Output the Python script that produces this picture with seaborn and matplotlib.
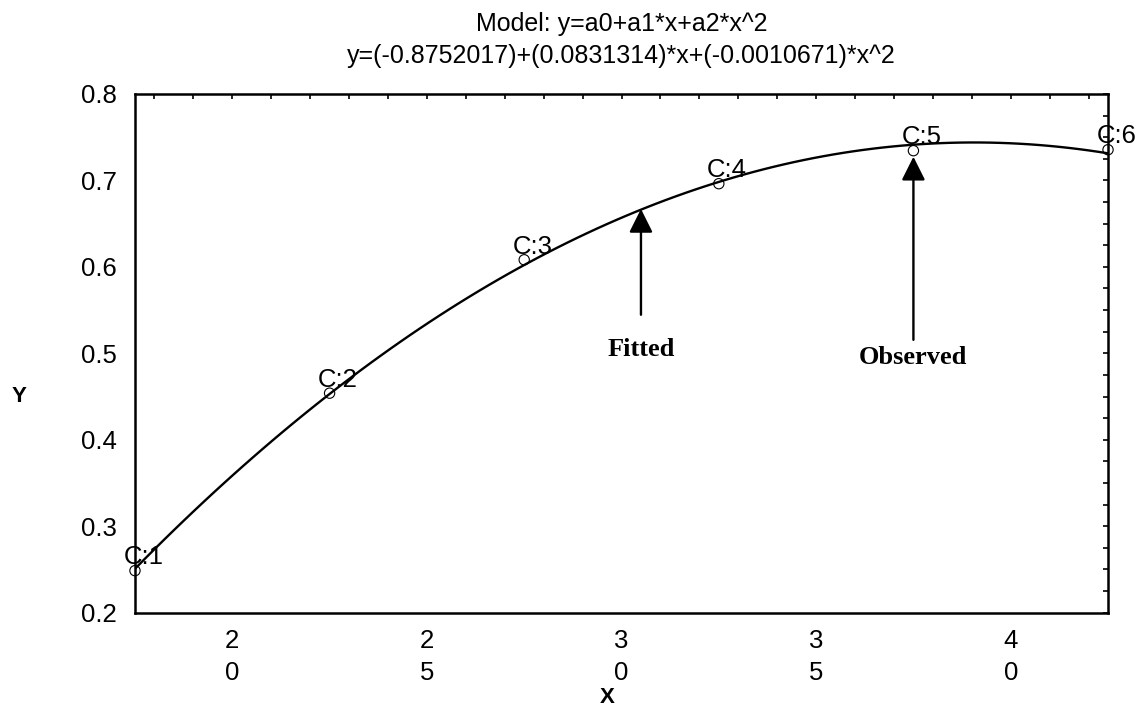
import numpy as np
import matplotlib
matplotlib.use("Agg")
import matplotlib.pyplot as plt
from matplotlib.ticker import MultipleLocator
import seaborn as sns

# observed points
x_obs = [17.5, 22.5, 27.5, 32.5, 37.5, 42.5]
y_obs = [0.2486, 0.4539, 0.6082, 0.6962, 0.7344, 0.7355]
point_labels = ["C:1", "C:2", "C:3", "C:4", "C:5", "C:6"]

x_ticks = [20, 25, 30, 35, 40]
x_ticklabels = ["2\n0", "2\n5", "3\n0", "3\n5", "4\n0"]
y_ticks = [0.2, 0.3, 0.4, 0.5, 0.6, 0.7, 0.8]

title = "Model: y=a0+a1*x+a2*x^2\ny=(-0.8752017)+(0.0831314)*x+(-0.0010671)*x^2"

# arrow annotations: (text, arrow tip, arrow tail, text centre)
notes = [
    ("Fitted", (30.5, 0.667), (30.5, 0.5446), (30.5, 0.5045)),
    ("Observed", (37.5, 0.7274), (37.5, 0.5156), (37.5, 0.4954)),
]

sns.set_style("white")
plt.rcParams["font.family"] = ["Liberation Sans", "DejaVu Sans"]
plt.rcParams["text.color"] = "black"
plt.rcParams["axes.labelcolor"] = "black"
plt.rcParams["xtick.color"] = "black"
plt.rcParams["ytick.color"] = "black"

fig = plt.figure(figsize=(11.41, 7.06), dpi=100)
ax = fig.add_axes([0.1183, 0.1322, 0.8528, 0.7347])

# quadratic fit drawn by seaborn
sns.regplot(x=x_obs, y=y_obs, order=2, ci=None, scatter=False, truncate=True,
            line_kws=dict(color="black", lw=1.7), ax=ax)
sns.scatterplot(x=x_obs, y=y_obs, marker="o", s=55, facecolor="none",
                edgecolor="black", linewidth=0.8, zorder=5, clip_on=False, ax=ax)

for lab, xv, yv in zip(point_labels, x_obs, y_obs):
    ax.annotate(lab, (xv, yv), xytext=(6, 4.5), textcoords="offset points",
                ha="center", va="baseline", fontsize=18.5, color="black",
                annotation_clip=False)

for txt, tip, tail, pos in notes:
    ax.annotate("", xy=tip, xytext=tail,
                arrowprops=dict(arrowstyle="-|>", color="black", lw=1.7,
                                mutation_scale=36, shrinkA=0, shrinkB=0))
    ax.text(pos[0], pos[1], txt, ha="center", va="center", fontsize=19,
            fontweight="bold", color="black",
            family=["Liberation Serif", "DejaVu Serif"])

ax.set_xlim(17.5, 42.5)
ax.set_ylim(0.2, 0.8)
ax.set_xticks(x_ticks)
ax.set_xticklabels(x_ticklabels, linespacing=1.4)
ax.set_yticks(y_ticks)
ax.set_yticklabels([f"{v:.1f}" for v in y_ticks])
ax.xaxis.set_minor_locator(MultipleLocator(1))
ax.yaxis.set_minor_locator(MultipleLocator(0.025))
ax.tick_params(which="both", direction="in", length=3.5, width=1.2,
               top=True, right=True, labelsize=18.5, color="black",
               labelcolor="black")
ax.tick_params(axis="x", which="major", pad=12)
ax.tick_params(axis="y", which="major", pad=13)

for sp in ax.spines.values():
    sp.set_visible(True)
    sp.set_color("black")
    sp.set_linewidth(1.8)

ax.set_xlabel("X", fontsize=16, fontweight="bold")
ax.set_ylabel("Y", fontsize=16, fontweight="bold", rotation=0, va="center")
ax.xaxis.set_label_coords(0.485, -0.143)
ax.yaxis.set_label_coords(-0.119, 0.416)

ax.set_title(title, fontsize=18, linespacing=1.45, pad=22, color="black")

fig.savefig("out.png", dpi=100)
